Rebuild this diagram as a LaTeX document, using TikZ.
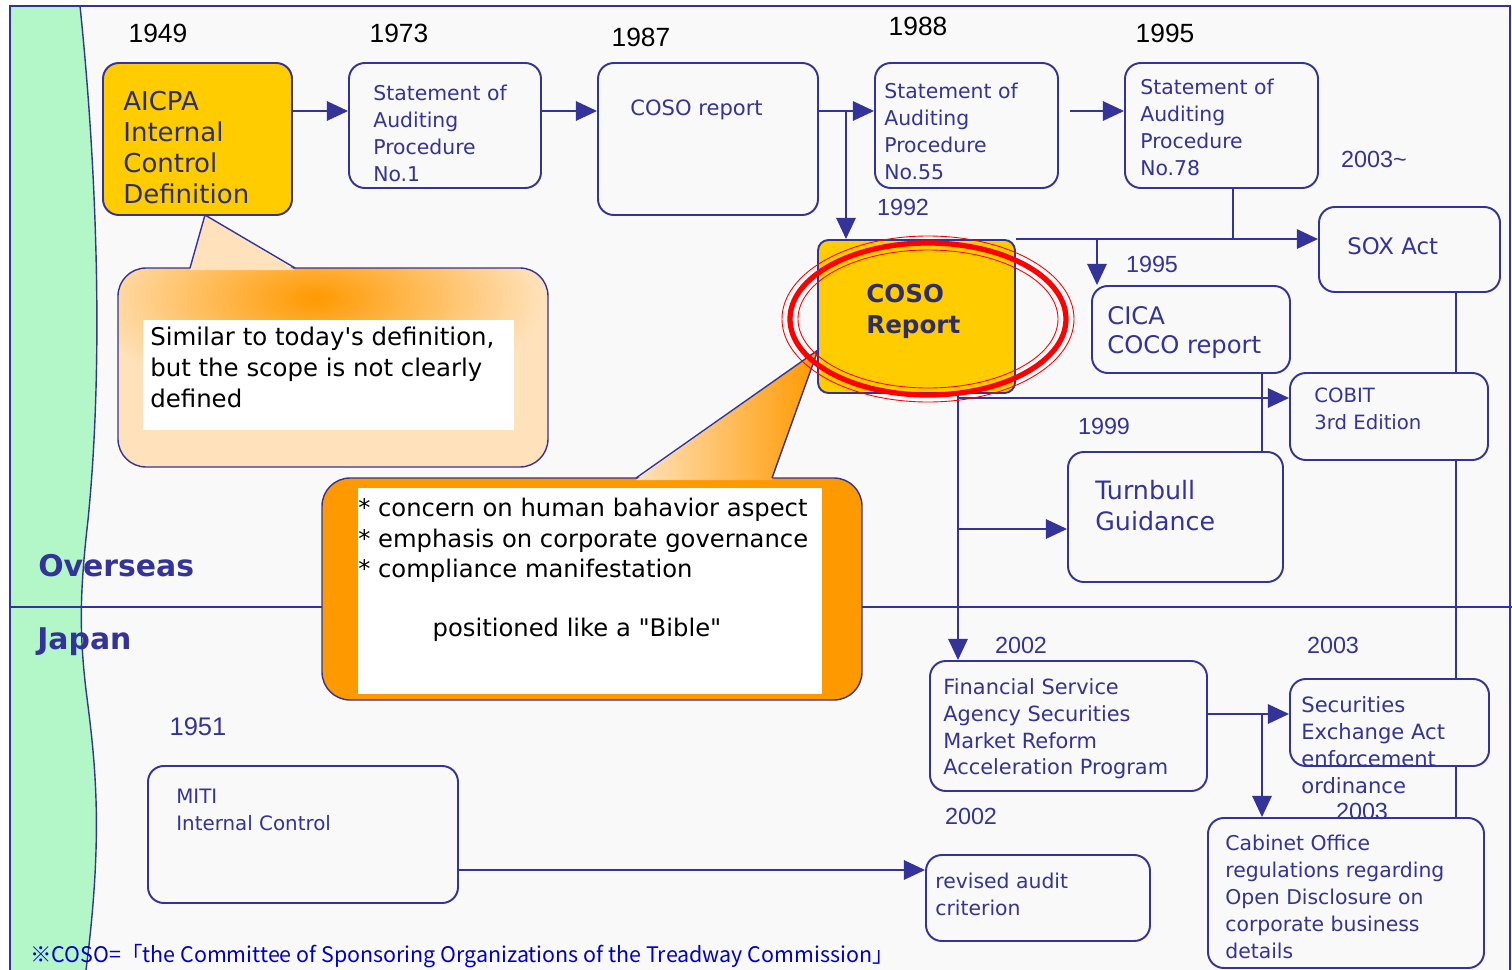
\documentclass[tikz,border=0pt]{standalone}
\usepackage{fontspec}
\setmainfont{DejaVu Sans}
\newfontfamily\arialf{Liberation Sans}
\newfontfamily\cjkf{Noto Sans CJK JP}
\usetikzlibrary{arrows.meta,fit}
\definecolor{navy}{HTML}{333399}
\definecolor{ink}{HTML}{2E2E66}
\definecolor{gold}{HTML}{FFCC00}
\definecolor{mint}{HTML}{B3F7C9}
\definecolor{paper}{HTML}{F9F9FA}
\definecolor{peach}{HTML}{FFE2BC}
\definecolor{orng}{HTML}{FF9900}
\definecolor{notecol}{HTML}{0000CC}
\tikzset{
  box/.style={draw=navy, line width=1.1pt, rounded corners=9pt, fill=paper, inner sep=0pt},
  callout/.style={draw=navy, line width=0.8pt, rounded corners=16pt, inner sep=0pt},
  txt/.style={anchor=north west, align=left, inner sep=0pt, text=navy,
    font=\fontsize{11.6}{15.3}\selectfont},
  yr/.style={font=\arialf\fontsize{15}{18}\selectfont},
  yrs/.style={font=\arialf\fontsize{13.3}{16}\selectfont, text=navy},
  wire/.style={draw=navy, line width=1.1pt},
  link/.style={wire, -{Triangle[length=12pt,width=11pt]}},
}
\begin{document}
\begin{tikzpicture}[x=0.02cm,y=-0.02cm]
  \useasboundingbox (0,0) rectangle (1512,970);
  \fill[white] (0,0) rectangle (1512,970);
  \fill[paper] (10,6) rectangle (1512,970);
  \fill[mint] (10,6) -- (80,6) .. controls (95,150) and (105,350) .. (88,520)
    .. controls (80,590) and (79,630) .. (86,690) .. controls (95,760) and (104,830) .. (86,970)
    -- (10,970) -- cycle;
  \draw[navy, line width=0.8pt] (80,6) .. controls (95,150) and (105,350) .. (88,520)
    .. controls (80,590) and (79,630) .. (86,690) .. controls (95,760) and (104,830) .. (86,970);
  \draw[navy, line width=0.8pt] (10,970) -- (10,6) -- (1510,6) -- (1510,970);
  \draw[navy, line width=1.7pt] (10,607) -- (1512,607);

  \node[box, fill=gold, fit={(103,63) (292,215)}] (aicpa) {};
  \node[box, fit={(349,63) (541,188)}] (sap1) {};
  \node[box, fit={(598,63) (818,215)}] (coso87) {};
  \node[box, fit={(875,63) (1058,188)}] (sap55) {};
  \node[box, fit={(1125,63) (1318,188)}] (sap78) {};
  \node[box, fit={(1319,207) (1500,292)}] (sox) {};
  \node[box, fill=gold, rounded corners=6pt, fit={(818,240) (1015,393)}] (coso92) {};
  \node[box, fit={(1092,286) (1290,373)}] (cica) {};
  \node[box, fit={(1290,373) (1488,460)}] (cobit) {};
  \node[box, fit={(1068,452) (1283,582)}] (turnbull) {};
  \node[box, fit={(930,661) (1207,791)}] (fsa) {};
  \node[box, fit={(1290,679) (1489,766)}] (sea) {};
  \node[box, fit={(148,766) (458,903)}] (miti) {};
  \node[box, fit={(926,855) (1150,941)}] (revised) {};
  \node[box, fit={(1208,818) (1484,968)}] (cabinet) {};

  \coordinate (row) at (0,111);
  \coordinate (j1) at (846,111);
  \coordinate (j2) at (1233,240);
  \coordinate (j3) at (1097,240);
  \coordinate (j4) at (958,398);
  \coordinate (j5) at (958,529);
  \coordinate (j6) at (1262,400);
  \coordinate (j7) at (1456,400);
  \coordinate (j8) at (1262,714);
  \coordinate (j9) at (0,870);

  \draw[link] (aicpa.east |- row) -- (sap1.west |- row);
  \draw[link] (sap1.east |- row) -- (coso87.west |- row);
  \draw[link] (coso87.east |- row) -- (sap55.west |- row);
  \draw[link] (j1) -- (j1 |- coso92.north);
  \draw[link, shorten <=6pt] (sap55.east |- row) -- (sap78.west |- row);
  \draw[wire] (j2 |- sap78.south) -- (j2);
  \draw[link] (coso92.north east) -- (sox.west |- coso92.north east);
  \draw[link] (j3) -- (j3 |- cica.north);
  \draw[link] (j4) -- (cobit.west |- j4);
  \draw[link] (coso92.south -| j4) -- (fsa.north -| j4);
  \draw[link] (j5) -- (turnbull.west |- j5);
  \draw[wire] (cica.south -| j6) -- (turnbull.north -| j6);
  \draw[wire] (sox.south -| j7) -- (cobit.north -| j7);
  \draw[wire] (cobit.south -| j7) -- (sea.north -| j7);
  \draw[wire] (sea.south -| j7) -- (cabinet.north -| j7);
  \draw[link] (fsa.east |- j8) -- (sea.west |- j8);
  \draw[link] (j8) -- (j8 |- cabinet.north);
  \draw[link] (miti.east |- j9) -- (revised.west |- j9);

  \fill[peach, rounded corners=16pt] (118,268) rectangle (548,467);
  \begin{scope}
    \clip[rounded corners=16pt] (118,268) rectangle (548,467);
    \shade[inner color=orng, outer color=peach] (315,298) ellipse (230 and 105);
  \end{scope}
  \fill[white] (143,320) rectangle (514,430);
  \node[callout, fit={(118,268) (548,467)}] (note1) {};
  \fill[peach] (190,270) -- (205,215) -- (295,270) -- cycle;
  \draw[navy, line width=0.8pt] (190,268) -- (205,215) -- (295,268);

  \fill[orng, rounded corners=16pt] (322,478) rectangle (862,700);
  \begin{scope}
    \clip[rounded corners=16pt] (322,478) rectangle (862,700);
    \shade[left color=orng, middle color=peach, right color=orng] (322,478) rectangle (862,490);
  \end{scope}
  \fill[white] (358,488) rectangle (822,694);
  \node[callout, fit={(322,478) (862,700)}] (note2) {};
  \shade[left color=peach, right color=orng] (636,480) -- (818,350) -- (772,480) -- cycle;
  \draw[navy, line width=0.8pt] (636,478) -- (818,350) -- (772,478);

  \draw[red, line width=0.5pt] (928,319) ellipse (146 and 83);
  \draw[red, line width=3pt] (928,319) ellipse (138 and 76);
  \draw[red, line width=0.5pt] (928,319) ellipse (130 and 69);

  \node[txt, text=ink, font=\fontsize{14.8}{17.6}\selectfont] (aicpa-t) at (123,91) {AICPA\\Internal\\Control\\Definition};
  \node[txt] (sap1-t) at (373,85) {Statement of\\Auditing\\Procedure\\No.1};
  \node[txt, font=\fontsize{12}{15.3}\selectfont] (coso87-t) at (630,100) {COSO report};
  \node[txt] (sap55-t) at (884,83) {Statement of\\Auditing\\Procedure\\No.55};
  \node[txt] (sap78-t) at (1140,79) {Statement of\\Auditing\\Procedure\\No.78};
  \node[txt, font=\fontsize{13}{16}\selectfont] (sox-t) at (1347,237) {SOX Act};
  \node[txt, text=ink, font=\bfseries\fontsize{14}{17.6}\selectfont] (coso92-t) at (866,284) {COSO\\Report};
  \node[txt, font=\fontsize{13.8}{16.4}\selectfont] (cica-t) at (1107,306) {CICA\\COCO report};
  \node[txt, font=\fontsize{11.2}{15.3}\selectfont] (cobit-t) at (1314,388) {COBIT\\3rd Edition};
  \node[txt, font=\fontsize{14.4}{17.6}\selectfont] (turnbull-t) at (1095,480) {Turnbull\\Guidance};
  \node[txt, font=\fontsize{11.9}{15.3}\selectfont] (fsa-t) at (943,678) {Financial Service\\Agency Securities\\Market Reform\\Acceleration Program};
  \node[txt, font=\fontsize{12}{15.3}\selectfont] (sea-t) at (1301,696) {Securities\\Exchange Act\\enforcement\\ordinance};
  \node[txt, font=\fontsize{11.3}{15.3}\selectfont] (miti-t) at (176,789) {MITI\\Internal Control};
  \node[txt] (revised-t) at (935,873) {revised audit\\criterion};
  \node[txt] (cabinet-t) at (1225,835) {Cabinet Office\\regulations regarding\\Open Disclosure on\\corporate business\\details};

  \node[txt, text=black, font=\fontsize{13.9}{17.6}\selectfont] (note1-t) at (150,327) {Similar to today\textquotesingle s definition,\\but the scope is not clearly\\defined};
  \node[txt, text=black, font=\fontsize{13.8}{17.3}\selectfont] (note2-t) at (358,498) {* concern on human bahavior aspect\\* emphasis on corporate governance\\* compliance manifestation};
  \node[text=black, font=\fontsize{13.8}{17.3}\selectfont] (bible) at (577,630) {positioned like a \textquotedbl Bible\textquotedbl};

  \node[anchor=west, inner sep=0pt, text=navy, font=\bfseries\fontsize{17}{20}\selectfont] (overseas) at (38,566) {Overseas};
  \node[anchor=west, inner sep=0pt, text=navy, font=\bfseries\fontsize{17}{20}\selectfont] (japan) at (37,642) {Japan};

  \node[yr] (y1949) at (158,33) {1949};
  \node[yr] (y1973) at (399,33) {1973};
  \node[yr] (y1987) at (641,37) {1987};
  \node[yr] (y1988) at (918,26) {1988};
  \node[yr] (y1995a) at (1165,33) {1995};
  \node[yrs] (y1992) at (903,207) {1992};
  \node[yrs] (y1995b) at (1152,264) {1995};
  \node[yrs] (y2003a) at (1374,159) {2003\textasciitilde};
  \node[yrs] (y1999) at (1104,426) {1999};
  \node[yrs] (y2002a) at (1021,645) {2002};
  \node[yrs] (y2003b) at (1333,645) {2003};
  \node[yrs] (y2002b) at (971,816) {2002};
  \node[yrs] (y2003c) at (1362,811) {2003};
  \node[yrs, font=\arialf\fontsize{14.5}{17}\selectfont] (y1951) at (198,727) {1951};

  \node[anchor=west, inner sep=0pt, text=notecol, font=\cjkf\fontsize{12.2}{15}\selectfont] (coso-note) at (30,956)
    {※COSO=「the Committee of Sponsoring Organizations of the Treadway Commission」};
\end{tikzpicture}
\end{document}
